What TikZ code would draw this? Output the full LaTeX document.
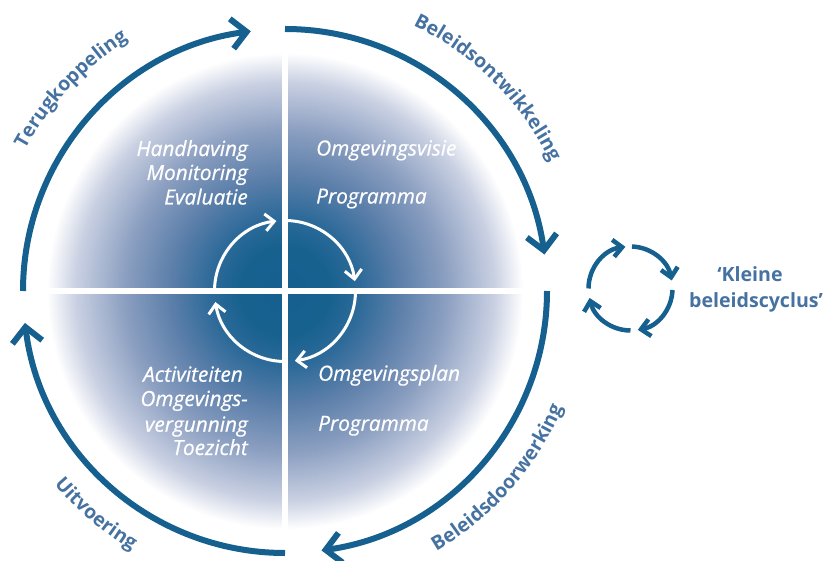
\documentclass[tikz,border=0pt]{standalone}
\usepackage{fontspec}
\setmainfont{Open Sans}
\newfontfamily\semiit{Open Sans}[FakeBold=0.6]
\usetikzlibrary{arrows.meta,decorations.text}
\definecolor{dk}{HTML}{15608F}
\definecolor{lbl}{HTML}{4672A2}
\definecolor{ga}{HTML}{17618F}
\definecolor{gb}{HTML}{2D6A99}
\definecolor{gc}{HTML}{5A7EA9}
\definecolor{gd}{HTML}{8A9EC0}
\definecolor{ge}{HTML}{C9D0E2}
\pgfdeclareradialshading{discshade}{\pgfpoint{0bp}{0bp}}{color(0bp)=(dk); color(4.6bp)=(ga); color(7.75bp)=(gb); color(11.7bp)=(gc); color(16.5bp)=(gd); color(21.6bp)=(ge); color(24.6bp)=(white); color(50bp)=(white)}
\tikzset{
  bigarc/.style={dk, line width=6pt, -{Straight Barb[length=15pt,width=30pt]}},
  smallarc/.style={white, line width=3pt, -{Straight Barb[length=9pt,width=17pt]}},
  cycarc/.style={dk, line width=4.5pt, -{Straight Barb[length=9pt,width=17pt]}},
  itl/.style={white, font=\semiit\itshape\fontsize{20.8}{24}\selectfont, inner sep=0pt},
  kl/.style={lbl, font=\bfseries\fontsize{19.6}{22}\selectfont, inner sep=0pt},
  arclabel/.style={decorate, decoration={text along path, text align=center, text color=lbl,
     text={#1}}}
}
\begin{document}
\begin{tikzpicture}[x=1pt,y=1pt]
\useasboundingbox (0,0) rectangle (824,560);
\coordinate (C) at (285,269);
\coordinate (S) at (630.5,271.5);
% gradient disc
\shade[shading=discshade] (C) circle[radius=242];
% white cross
\draw[white, line width=6pt] ([yshift=-246pt]C) -- ([yshift=246pt]C);
\draw[white, line width=6pt] ([xshift=-246pt]C) -- ([xshift=246pt]C);
% outer arcs
\draw[bigarc] (C) ++(180:262) arc[start angle=180, end angle=97.5, radius=262];
\draw[bigarc] (C) ++(90:262) arc[start angle=90, end angle=8, radius=262];
\draw[bigarc] (C) ++(0:262) arc[start angle=0, end angle=-82, radius=262];
\draw[bigarc] (C) ++(-90:262) arc[start angle=-90, end angle=-173, radius=262];
% inner white cycle
\draw[smallarc] (C) ++(180:70.5) arc[start angle=180, end angle=97, radius=70.5];
\draw[smallarc] (C) ++(90:70.5) arc[start angle=90, end angle=8, radius=70.5];
\draw[smallarc] (C) ++(0:70.5) arc[start angle=0, end angle=-82, radius=70.5];
\draw[smallarc] (C) ++(-90:70.5) arc[start angle=-90, end angle=-171, radius=70.5];
% small cycle
\draw[cycarc] (S) ++(180:42) arc[start angle=180, end angle=97, radius=42];
\draw[cycarc] (S) ++(88:42) arc[start angle=88, end angle=11, radius=42];
\draw[cycarc] (S) ++(-2:42) arc[start angle=-2, end angle=-80, radius=42];
\draw[cycarc] (S) ++(-90:42) arc[start angle=-90, end angle=-167, radius=42];
% curved labels
\begin{scope}
\bfseries\fontsize{19.5}{22}\selectfont
\path[arclabel=Terugkoppeling] (C) ++(176.7:296) arc[start angle=176.7, end angle=96.7, radius=296];
\path[arclabel=Beleidsontwikkeling] (C) ++(85.1:295) arc[start angle=85.1, end angle=5.1, radius=295];
\path[arclabel=Beleidsdoorwerking] (C) ++(-81.3:301) arc[start angle=-81.3, end angle=-1.3, radius=301];
\path[arclabel=Uitvoering] (C) ++(189.7:301) arc[start angle=189.7, end angle=269.7, radius=301];
\end{scope}
% inner texts
\node[itl, anchor=base east] (h1) at (248,404) {Handhaving};
\node[itl, anchor=base east] (h2) at (248,380) {Monitoring};
\node[itl, anchor=base east] (h3) at (248,355.5) {Evaluatie};
\node[itl, anchor=base west] (v1) at (316,404.5) {Omgevingsvisie};
\node[itl, anchor=base west] (v2) at (316,356.5) {Programma};
\node[itl, anchor=base west] (p1) at (318,179.3) {Omgevingsplan};
\node[itl, anchor=base west] (p2) at (318,129.3) {Programma};
\node[itl, anchor=base east] (a1) at (243,178.3) {Activiteiten};
\node[itl, anchor=base east] (a2) at (248,154) {Omgevings-};
\node[itl, anchor=base east] (a3) at (248,128.3) {vergunning};
\node[itl, anchor=base east] (a4) at (248,105) {Toezicht};
% small cycle label
\node[kl, anchor=base] (k1) at (750,278) {‘Kleine};
\node[kl, anchor=base] (k2) at (756,252) {beleidscyclus’};
\end{tikzpicture}
\end{document}
